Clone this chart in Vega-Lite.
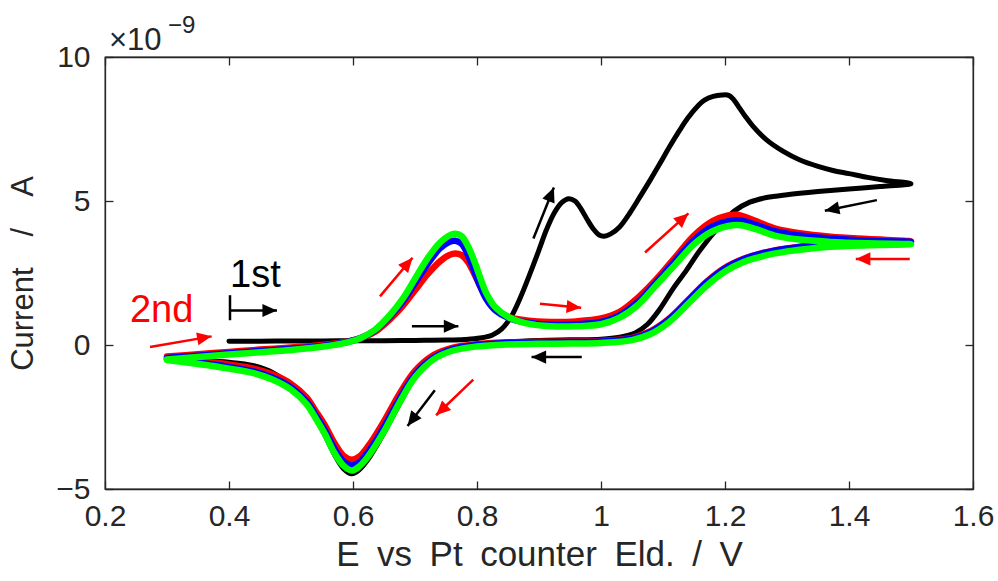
{
  "$schema": "https://vega.github.io/schema/vega-lite/v6.json",
  "width": 868,
  "height": 432,
  "autosize": "none",
  "padding": {"left": 105, "top": 57, "right": 25, "bottom": 92},
  "background": "white",
  "config": {
    "font": "Liberation Sans",
    "view": {"stroke": "#262626", "strokeWidth": 1.3},
    "axis": {
      "grid": false,
      "domainColor": "#262626",
      "domainWidth": 1.3,
      "tickColor": "#262626",
      "tickWidth": 1.3,
      "tickSize": -8,
      "labelColor": "#262626",
      "labelFont": "Liberation Sans",
      "labelFontSize": 30,
      "labelOverlap": false,
      "labelFlush": false,
      "titleFont": "Liberation Sans",
      "titleFontSize": 31,
      "titleFontWeight": "normal",
      "titleColor": "#262626"
    }
  },
  "datasets": {
    "cv": [
      {"cycle": "1st", "step": 1, "E": 0.40, "I": 0.13},
      {"cycle": "1st", "step": 2, "E": 0.45, "I": 0.13},
      {"cycle": "1st", "step": 3, "E": 0.50, "I": 0.14},
      {"cycle": "1st", "step": 4, "E": 0.55, "I": 0.14},
      {"cycle": "1st", "step": 5, "E": 0.60, "I": 0.15},
      {"cycle": "1st", "step": 6, "E": 0.65, "I": 0.15},
      {"cycle": "1st", "step": 7, "E": 0.70, "I": 0.16},
      {"cycle": "1st", "step": 8, "E": 0.75, "I": 0.17},
      {"cycle": "1st", "step": 9, "E": 0.78, "I": 0.19},
      {"cycle": "1st", "step": 10, "E": 0.805, "I": 0.24},
      {"cycle": "1st", "step": 11, "E": 0.825, "I": 0.35},
      {"cycle": "1st", "step": 12, "E": 0.84, "I": 0.56},
      {"cycle": "1st", "step": 13, "E": 0.855, "I": 0.98},
      {"cycle": "1st", "step": 14, "E": 0.87, "I": 1.65},
      {"cycle": "1st", "step": 15, "E": 0.885, "I": 2.45},
      {"cycle": "1st", "step": 16, "E": 0.90, "I": 3.3},
      {"cycle": "1st", "step": 17, "E": 0.912, "I": 4.0},
      {"cycle": "1st", "step": 18, "E": 0.925, "I": 4.6},
      {"cycle": "1st", "step": 19, "E": 0.937, "I": 4.95},
      {"cycle": "1st", "step": 20, "E": 0.948, "I": 5.08},
      {"cycle": "1st", "step": 21, "E": 0.958, "I": 5.0},
      {"cycle": "1st", "step": 22, "E": 0.968, "I": 4.72},
      {"cycle": "1st", "step": 23, "E": 0.978, "I": 4.35},
      {"cycle": "1st", "step": 24, "E": 0.988, "I": 4.02},
      {"cycle": "1st", "step": 25, "E": 0.997, "I": 3.82},
      {"cycle": "1st", "step": 26, "E": 1.005, "I": 3.78},
      {"cycle": "1st", "step": 27, "E": 1.015, "I": 3.85},
      {"cycle": "1st", "step": 28, "E": 1.03, "I": 4.1},
      {"cycle": "1st", "step": 29, "E": 1.047, "I": 4.6},
      {"cycle": "1st", "step": 30, "E": 1.063, "I": 5.15},
      {"cycle": "1st", "step": 31, "E": 1.08, "I": 5.75},
      {"cycle": "1st", "step": 32, "E": 1.095, "I": 6.3},
      {"cycle": "1st", "step": 33, "E": 1.111, "I": 6.9},
      {"cycle": "1st", "step": 34, "E": 1.127, "I": 7.46},
      {"cycle": "1st", "step": 35, "E": 1.14, "I": 7.88},
      {"cycle": "1st", "step": 36, "E": 1.154, "I": 8.25},
      {"cycle": "1st", "step": 37, "E": 1.167, "I": 8.5},
      {"cycle": "1st", "step": 38, "E": 1.181, "I": 8.63},
      {"cycle": "1st", "step": 39, "E": 1.195, "I": 8.68},
      {"cycle": "1st", "step": 40, "E": 1.206, "I": 8.67},
      {"cycle": "1st", "step": 41, "E": 1.214, "I": 8.52},
      {"cycle": "1st", "step": 42, "E": 1.222, "I": 8.27},
      {"cycle": "1st", "step": 43, "E": 1.232, "I": 7.96},
      {"cycle": "1st", "step": 44, "E": 1.245, "I": 7.6},
      {"cycle": "1st", "step": 45, "E": 1.267, "I": 7.12},
      {"cycle": "1st", "step": 46, "E": 1.294, "I": 6.72},
      {"cycle": "1st", "step": 47, "E": 1.32, "I": 6.43},
      {"cycle": "1st", "step": 48, "E": 1.35, "I": 6.2},
      {"cycle": "1st", "step": 49, "E": 1.374, "I": 6.06},
      {"cycle": "1st", "step": 50, "E": 1.40, "I": 5.95},
      {"cycle": "1st", "step": 51, "E": 1.43, "I": 5.82},
      {"cycle": "1st", "step": 52, "E": 1.46, "I": 5.71},
      {"cycle": "1st", "step": 53, "E": 1.50, "I": 5.6},
      {"cycle": "1st", "step": 54, "E": 1.45, "I": 5.5},
      {"cycle": "1st", "step": 55, "E": 1.40, "I": 5.42},
      {"cycle": "1st", "step": 56, "E": 1.35, "I": 5.33},
      {"cycle": "1st", "step": 57, "E": 1.30, "I": 5.22},
      {"cycle": "1st", "step": 58, "E": 1.267, "I": 5.12},
      {"cycle": "1st", "step": 59, "E": 1.24, "I": 4.96},
      {"cycle": "1st", "step": 60, "E": 1.215, "I": 4.65},
      {"cycle": "1st", "step": 61, "E": 1.19, "I": 4.1},
      {"cycle": "1st", "step": 62, "E": 1.16, "I": 3.3},
      {"cycle": "1st", "step": 63, "E": 1.138, "I": 2.6},
      {"cycle": "1st", "step": 64, "E": 1.116, "I": 1.95},
      {"cycle": "1st", "step": 65, "E": 1.095, "I": 1.25},
      {"cycle": "1st", "step": 66, "E": 1.075, "I": 0.72},
      {"cycle": "1st", "step": 67, "E": 1.055, "I": 0.42},
      {"cycle": "1st", "step": 68, "E": 1.03, "I": 0.27},
      {"cycle": "1st", "step": 69, "E": 1.00, "I": 0.2},
      {"cycle": "1st", "step": 70, "E": 0.95, "I": 0.18},
      {"cycle": "1st", "step": 71, "E": 0.90, "I": 0.16},
      {"cycle": "1st", "step": 72, "E": 0.85, "I": 0.11},
      {"cycle": "1st", "step": 73, "E": 0.80, "I": 0.01},
      {"cycle": "1st", "step": 74, "E": 0.76, "I": -0.18},
      {"cycle": "1st", "step": 75, "E": 0.73, "I": -0.48},
      {"cycle": "1st", "step": 76, "E": 0.70, "I": -1.12},
      {"cycle": "1st", "step": 77, "E": 0.675, "I": -2.05},
      {"cycle": "1st", "step": 78, "E": 0.65, "I": -3.05},
      {"cycle": "1st", "step": 79, "E": 0.625, "I": -3.95},
      {"cycle": "1st", "step": 80, "E": 0.61, "I": -4.33},
      {"cycle": "1st", "step": 81, "E": 0.598, "I": -4.47},
      {"cycle": "1st", "step": 82, "E": 0.585, "I": -4.3},
      {"cycle": "1st", "step": 83, "E": 0.57, "I": -3.8},
      {"cycle": "1st", "step": 84, "E": 0.555, "I": -3.15},
      {"cycle": "1st", "step": 85, "E": 0.54, "I": -2.55},
      {"cycle": "1st", "step": 86, "E": 0.525, "I": -2.0},
      {"cycle": "1st", "step": 87, "E": 0.50, "I": -1.42},
      {"cycle": "1st", "step": 88, "E": 0.47, "I": -0.95},
      {"cycle": "1st", "step": 89, "E": 0.44, "I": -0.72},
      {"cycle": "1st", "step": 90, "E": 0.40, "I": -0.6},
      {"cycle": "1st", "step": 91, "E": 0.35, "I": -0.54},
      {"cycle": "1st", "step": 92, "E": 0.30, "I": -0.5},

      {"cycle": "2nd", "step": 1, "E": 0.30, "I": -0.40},
      {"cycle": "2nd", "step": 2, "E": 0.35, "I": -0.32},
      {"cycle": "2nd", "step": 3, "E": 0.40, "I": -0.24},
      {"cycle": "2nd", "step": 4, "E": 0.45, "I": -0.16},
      {"cycle": "2nd", "step": 5, "E": 0.50, "I": -0.09},
      {"cycle": "2nd", "step": 6, "E": 0.55, "I": 0.0},
      {"cycle": "2nd", "step": 7, "E": 0.58, "I": 0.08},
      {"cycle": "2nd", "step": 8, "E": 0.61, "I": 0.22},
      {"cycle": "2nd", "step": 9, "E": 0.635, "I": 0.45},
      {"cycle": "2nd", "step": 10, "E": 0.66, "I": 0.9},
      {"cycle": "2nd", "step": 11, "E": 0.68, "I": 1.35},
      {"cycle": "2nd", "step": 12, "E": 0.70, "I": 1.9},
      {"cycle": "2nd", "step": 13, "E": 0.72, "I": 2.45},
      {"cycle": "2nd", "step": 14, "E": 0.74, "I": 2.9},
      {"cycle": "2nd", "step": 15, "E": 0.755, "I": 3.12},
      {"cycle": "2nd", "step": 16, "E": 0.765, "I": 3.18},
      {"cycle": "2nd", "step": 17, "E": 0.775, "I": 3.12},
      {"cycle": "2nd", "step": 18, "E": 0.785, "I": 2.9},
      {"cycle": "2nd", "step": 19, "E": 0.795, "I": 2.5},
      {"cycle": "2nd", "step": 20, "E": 0.805, "I": 2.05},
      {"cycle": "2nd", "step": 21, "E": 0.815, "I": 1.65},
      {"cycle": "2nd", "step": 22, "E": 0.83, "I": 1.25},
      {"cycle": "2nd", "step": 23, "E": 0.85, "I": 0.98},
      {"cycle": "2nd", "step": 24, "E": 0.88, "I": 0.85},
      {"cycle": "2nd", "step": 25, "E": 0.92, "I": 0.8},
      {"cycle": "2nd", "step": 26, "E": 0.96, "I": 0.82},
      {"cycle": "2nd", "step": 27, "E": 1.00, "I": 0.92},
      {"cycle": "2nd", "step": 28, "E": 1.03, "I": 1.15},
      {"cycle": "2nd", "step": 29, "E": 1.06, "I": 1.65},
      {"cycle": "2nd", "step": 30, "E": 1.09, "I": 2.3},
      {"cycle": "2nd", "step": 31, "E": 1.12, "I": 3.05},
      {"cycle": "2nd", "step": 32, "E": 1.15, "I": 3.8},
      {"cycle": "2nd", "step": 33, "E": 1.18, "I": 4.3},
      {"cycle": "2nd", "step": 34, "E": 1.205, "I": 4.5},
      {"cycle": "2nd", "step": 35, "E": 1.22, "I": 4.52},
      {"cycle": "2nd", "step": 36, "E": 1.25, "I": 4.3},
      {"cycle": "2nd", "step": 37, "E": 1.28, "I": 4.05},
      {"cycle": "2nd", "step": 38, "E": 1.32, "I": 3.88},
      {"cycle": "2nd", "step": 39, "E": 1.37, "I": 3.76},
      {"cycle": "2nd", "step": 40, "E": 1.43, "I": 3.68},
      {"cycle": "2nd", "step": 41, "E": 1.50, "I": 3.6},
      {"cycle": "2nd", "step": 42, "E": 1.45, "I": 3.55},
      {"cycle": "2nd", "step": 43, "E": 1.40, "I": 3.52},
      {"cycle": "2nd", "step": 44, "E": 1.35, "I": 3.47},
      {"cycle": "2nd", "step": 45, "E": 1.30, "I": 3.35},
      {"cycle": "2nd", "step": 46, "E": 1.26, "I": 3.19},
      {"cycle": "2nd", "step": 47, "E": 1.23, "I": 2.99},
      {"cycle": "2nd", "step": 48, "E": 1.20, "I": 2.68},
      {"cycle": "2nd", "step": 49, "E": 1.17, "I": 2.19},
      {"cycle": "2nd", "step": 50, "E": 1.14, "I": 1.55},
      {"cycle": "2nd", "step": 51, "E": 1.11, "I": 0.92},
      {"cycle": "2nd", "step": 52, "E": 1.08, "I": 0.48},
      {"cycle": "2nd", "step": 53, "E": 1.05, "I": 0.25},
      {"cycle": "2nd", "step": 54, "E": 1.00, "I": 0.14},
      {"cycle": "2nd", "step": 55, "E": 0.95, "I": 0.12},
      {"cycle": "2nd", "step": 56, "E": 0.90, "I": 0.11},
      {"cycle": "2nd", "step": 57, "E": 0.85, "I": 0.09},
      {"cycle": "2nd", "step": 58, "E": 0.80, "I": 0.03},
      {"cycle": "2nd", "step": 59, "E": 0.76, "I": -0.1},
      {"cycle": "2nd", "step": 60, "E": 0.73, "I": -0.35},
      {"cycle": "2nd", "step": 61, "E": 0.70, "I": -0.9},
      {"cycle": "2nd", "step": 62, "E": 0.675, "I": -1.7},
      {"cycle": "2nd", "step": 63, "E": 0.65, "I": -2.65},
      {"cycle": "2nd", "step": 64, "E": 0.625, "I": -3.5},
      {"cycle": "2nd", "step": 65, "E": 0.61, "I": -3.88},
      {"cycle": "2nd", "step": 66, "E": 0.598, "I": -3.98},
      {"cycle": "2nd", "step": 67, "E": 0.585, "I": -3.85},
      {"cycle": "2nd", "step": 68, "E": 0.57, "I": -3.4},
      {"cycle": "2nd", "step": 69, "E": 0.555, "I": -2.8},
      {"cycle": "2nd", "step": 70, "E": 0.54, "I": -2.3},
      {"cycle": "2nd", "step": 71, "E": 0.525, "I": -1.82},
      {"cycle": "2nd", "step": 72, "E": 0.50, "I": -1.35},
      {"cycle": "2nd", "step": 73, "E": 0.47, "I": -1.02},
      {"cycle": "2nd", "step": 74, "E": 0.44, "I": -0.82},
      {"cycle": "2nd", "step": 75, "E": 0.40, "I": -0.68},
      {"cycle": "2nd", "step": 76, "E": 0.35, "I": -0.55},
      {"cycle": "2nd", "step": 77, "E": 0.30, "I": -0.45},

      {"cycle": "3rd", "step": 1, "E": 0.30, "I": -0.45},
      {"cycle": "3rd", "step": 2, "E": 0.35, "I": -0.37},
      {"cycle": "3rd", "step": 3, "E": 0.40, "I": -0.29},
      {"cycle": "3rd", "step": 4, "E": 0.45, "I": -0.21},
      {"cycle": "3rd", "step": 5, "E": 0.50, "I": -0.13},
      {"cycle": "3rd", "step": 6, "E": 0.55, "I": -0.03},
      {"cycle": "3rd", "step": 7, "E": 0.58, "I": 0.06},
      {"cycle": "3rd", "step": 8, "E": 0.61, "I": 0.22},
      {"cycle": "3rd", "step": 9, "E": 0.635, "I": 0.5},
      {"cycle": "3rd", "step": 10, "E": 0.66, "I": 1.0},
      {"cycle": "3rd", "step": 11, "E": 0.68, "I": 1.5},
      {"cycle": "3rd", "step": 12, "E": 0.70, "I": 2.15},
      {"cycle": "3rd", "step": 13, "E": 0.72, "I": 2.8},
      {"cycle": "3rd", "step": 14, "E": 0.74, "I": 3.35},
      {"cycle": "3rd", "step": 15, "E": 0.755, "I": 3.58},
      {"cycle": "3rd", "step": 16, "E": 0.765, "I": 3.62},
      {"cycle": "3rd", "step": 17, "E": 0.775, "I": 3.52},
      {"cycle": "3rd", "step": 18, "E": 0.785, "I": 3.15},
      {"cycle": "3rd", "step": 19, "E": 0.795, "I": 2.6},
      {"cycle": "3rd", "step": 20, "E": 0.805, "I": 2.05},
      {"cycle": "3rd", "step": 21, "E": 0.815, "I": 1.6},
      {"cycle": "3rd", "step": 22, "E": 0.83, "I": 1.2},
      {"cycle": "3rd", "step": 23, "E": 0.85, "I": 0.95},
      {"cycle": "3rd", "step": 24, "E": 0.88, "I": 0.78},
      {"cycle": "3rd", "step": 25, "E": 0.92, "I": 0.7},
      {"cycle": "3rd", "step": 26, "E": 0.96, "I": 0.72},
      {"cycle": "3rd", "step": 27, "E": 1.00, "I": 0.8},
      {"cycle": "3rd", "step": 28, "E": 1.03, "I": 1.03},
      {"cycle": "3rd", "step": 29, "E": 1.06, "I": 1.5},
      {"cycle": "3rd", "step": 30, "E": 1.09, "I": 2.2},
      {"cycle": "3rd", "step": 31, "E": 1.12, "I": 2.93},
      {"cycle": "3rd", "step": 32, "E": 1.15, "I": 3.65},
      {"cycle": "3rd", "step": 33, "E": 1.18, "I": 4.12},
      {"cycle": "3rd", "step": 34, "E": 1.205, "I": 4.3},
      {"cycle": "3rd", "step": 35, "E": 1.222, "I": 4.33},
      {"cycle": "3rd", "step": 36, "E": 1.25, "I": 4.17},
      {"cycle": "3rd", "step": 37, "E": 1.28, "I": 3.95},
      {"cycle": "3rd", "step": 38, "E": 1.32, "I": 3.8},
      {"cycle": "3rd", "step": 39, "E": 1.37, "I": 3.7},
      {"cycle": "3rd", "step": 40, "E": 1.43, "I": 3.62},
      {"cycle": "3rd", "step": 41, "E": 1.50, "I": 3.58},
      {"cycle": "3rd", "step": 42, "E": 1.45, "I": 3.54},
      {"cycle": "3rd", "step": 43, "E": 1.40, "I": 3.51},
      {"cycle": "3rd", "step": 44, "E": 1.35, "I": 3.46},
      {"cycle": "3rd", "step": 45, "E": 1.30, "I": 3.34},
      {"cycle": "3rd", "step": 46, "E": 1.26, "I": 3.18},
      {"cycle": "3rd", "step": 47, "E": 1.23, "I": 2.98},
      {"cycle": "3rd", "step": 48, "E": 1.20, "I": 2.66},
      {"cycle": "3rd", "step": 49, "E": 1.17, "I": 2.16},
      {"cycle": "3rd", "step": 50, "E": 1.14, "I": 1.52},
      {"cycle": "3rd", "step": 51, "E": 1.11, "I": 0.89},
      {"cycle": "3rd", "step": 52, "E": 1.08, "I": 0.45},
      {"cycle": "3rd", "step": 53, "E": 1.05, "I": 0.23},
      {"cycle": "3rd", "step": 54, "E": 1.00, "I": 0.12},
      {"cycle": "3rd", "step": 55, "E": 0.95, "I": 0.1},
      {"cycle": "3rd", "step": 56, "E": 0.90, "I": 0.09},
      {"cycle": "3rd", "step": 57, "E": 0.85, "I": 0.07},
      {"cycle": "3rd", "step": 58, "E": 0.80, "I": 0.0},
      {"cycle": "3rd", "step": 59, "E": 0.76, "I": -0.15},
      {"cycle": "3rd", "step": 60, "E": 0.73, "I": -0.44},
      {"cycle": "3rd", "step": 61, "E": 0.70, "I": -1.03},
      {"cycle": "3rd", "step": 62, "E": 0.675, "I": -1.88},
      {"cycle": "3rd", "step": 63, "E": 0.65, "I": -2.85},
      {"cycle": "3rd", "step": 64, "E": 0.625, "I": -3.7},
      {"cycle": "3rd", "step": 65, "E": 0.61, "I": -4.08},
      {"cycle": "3rd", "step": 66, "E": 0.598, "I": -4.18},
      {"cycle": "3rd", "step": 67, "E": 0.585, "I": -4.05},
      {"cycle": "3rd", "step": 68, "E": 0.57, "I": -3.6},
      {"cycle": "3rd", "step": 69, "E": 0.555, "I": -2.98},
      {"cycle": "3rd", "step": 70, "E": 0.54, "I": -2.45},
      {"cycle": "3rd", "step": 71, "E": 0.525, "I": -1.96},
      {"cycle": "3rd", "step": 72, "E": 0.50, "I": -1.47},
      {"cycle": "3rd", "step": 73, "E": 0.47, "I": -1.13},
      {"cycle": "3rd", "step": 74, "E": 0.44, "I": -0.92},
      {"cycle": "3rd", "step": 75, "E": 0.40, "I": -0.76},
      {"cycle": "3rd", "step": 76, "E": 0.35, "I": -0.61},
      {"cycle": "3rd", "step": 77, "E": 0.30, "I": -0.49},

      {"cycle": "4th", "step": 1, "E": 0.30, "I": -0.50},
      {"cycle": "4th", "step": 2, "E": 0.35, "I": -0.42},
      {"cycle": "4th", "step": 3, "E": 0.40, "I": -0.33},
      {"cycle": "4th", "step": 4, "E": 0.45, "I": -0.25},
      {"cycle": "4th", "step": 5, "E": 0.50, "I": -0.17},
      {"cycle": "4th", "step": 6, "E": 0.55, "I": -0.06},
      {"cycle": "4th", "step": 7, "E": 0.58, "I": 0.04},
      {"cycle": "4th", "step": 8, "E": 0.61, "I": 0.22},
      {"cycle": "4th", "step": 9, "E": 0.635, "I": 0.52},
      {"cycle": "4th", "step": 10, "E": 0.66, "I": 1.05},
      {"cycle": "4th", "step": 11, "E": 0.68, "I": 1.6},
      {"cycle": "4th", "step": 12, "E": 0.70, "I": 2.3},
      {"cycle": "4th", "step": 13, "E": 0.72, "I": 3.0},
      {"cycle": "4th", "step": 14, "E": 0.74, "I": 3.55},
      {"cycle": "4th", "step": 15, "E": 0.755, "I": 3.8},
      {"cycle": "4th", "step": 16, "E": 0.765, "I": 3.86},
      {"cycle": "4th", "step": 17, "E": 0.775, "I": 3.78},
      {"cycle": "4th", "step": 18, "E": 0.785, "I": 3.45},
      {"cycle": "4th", "step": 19, "E": 0.795, "I": 2.95},
      {"cycle": "4th", "step": 20, "E": 0.805, "I": 2.35},
      {"cycle": "4th", "step": 21, "E": 0.815, "I": 1.8},
      {"cycle": "4th", "step": 22, "E": 0.83, "I": 1.3},
      {"cycle": "4th", "step": 23, "E": 0.85, "I": 0.98},
      {"cycle": "4th", "step": 24, "E": 0.88, "I": 0.75},
      {"cycle": "4th", "step": 25, "E": 0.92, "I": 0.65},
      {"cycle": "4th", "step": 26, "E": 0.96, "I": 0.65},
      {"cycle": "4th", "step": 27, "E": 1.00, "I": 0.72},
      {"cycle": "4th", "step": 28, "E": 1.03, "I": 0.95},
      {"cycle": "4th", "step": 29, "E": 1.06, "I": 1.4},
      {"cycle": "4th", "step": 30, "E": 1.09, "I": 2.1},
      {"cycle": "4th", "step": 31, "E": 1.12, "I": 2.8},
      {"cycle": "4th", "step": 32, "E": 1.15, "I": 3.5},
      {"cycle": "4th", "step": 33, "E": 1.18, "I": 3.95},
      {"cycle": "4th", "step": 34, "E": 1.205, "I": 4.13},
      {"cycle": "4th", "step": 35, "E": 1.225, "I": 4.16},
      {"cycle": "4th", "step": 36, "E": 1.25, "I": 4.02},
      {"cycle": "4th", "step": 37, "E": 1.28, "I": 3.8},
      {"cycle": "4th", "step": 38, "E": 1.32, "I": 3.66},
      {"cycle": "4th", "step": 39, "E": 1.37, "I": 3.58},
      {"cycle": "4th", "step": 40, "E": 1.43, "I": 3.53},
      {"cycle": "4th", "step": 41, "E": 1.50, "I": 3.5},
      {"cycle": "4th", "step": 42, "E": 1.45, "I": 3.47},
      {"cycle": "4th", "step": 43, "E": 1.40, "I": 3.44},
      {"cycle": "4th", "step": 44, "E": 1.35, "I": 3.38},
      {"cycle": "4th", "step": 45, "E": 1.30, "I": 3.25},
      {"cycle": "4th", "step": 46, "E": 1.26, "I": 3.08},
      {"cycle": "4th", "step": 47, "E": 1.23, "I": 2.88},
      {"cycle": "4th", "step": 48, "E": 1.20, "I": 2.55},
      {"cycle": "4th", "step": 49, "E": 1.17, "I": 2.05},
      {"cycle": "4th", "step": 50, "E": 1.14, "I": 1.42},
      {"cycle": "4th", "step": 51, "E": 1.11, "I": 0.8},
      {"cycle": "4th", "step": 52, "E": 1.08, "I": 0.38},
      {"cycle": "4th", "step": 53, "E": 1.05, "I": 0.17},
      {"cycle": "4th", "step": 54, "E": 1.00, "I": 0.07},
      {"cycle": "4th", "step": 55, "E": 0.95, "I": 0.05},
      {"cycle": "4th", "step": 56, "E": 0.90, "I": 0.04},
      {"cycle": "4th", "step": 57, "E": 0.85, "I": 0.02},
      {"cycle": "4th", "step": 58, "E": 0.80, "I": -0.05},
      {"cycle": "4th", "step": 59, "E": 0.76, "I": -0.2},
      {"cycle": "4th", "step": 60, "E": 0.73, "I": -0.5},
      {"cycle": "4th", "step": 61, "E": 0.70, "I": -1.12},
      {"cycle": "4th", "step": 62, "E": 0.675, "I": -2.0},
      {"cycle": "4th", "step": 63, "E": 0.65, "I": -3.0},
      {"cycle": "4th", "step": 64, "E": 0.625, "I": -3.85},
      {"cycle": "4th", "step": 65, "E": 0.61, "I": -4.22},
      {"cycle": "4th", "step": 66, "E": 0.598, "I": -4.36},
      {"cycle": "4th", "step": 67, "E": 0.585, "I": -4.2},
      {"cycle": "4th", "step": 68, "E": 0.57, "I": -3.75},
      {"cycle": "4th", "step": 69, "E": 0.555, "I": -3.1},
      {"cycle": "4th", "step": 70, "E": 0.54, "I": -2.55},
      {"cycle": "4th", "step": 71, "E": 0.525, "I": -2.05},
      {"cycle": "4th", "step": 72, "E": 0.50, "I": -1.55},
      {"cycle": "4th", "step": 73, "E": 0.47, "I": -1.2},
      {"cycle": "4th", "step": 74, "E": 0.44, "I": -0.98},
      {"cycle": "4th", "step": 75, "E": 0.40, "I": -0.82},
      {"cycle": "4th", "step": 76, "E": 0.35, "I": -0.66},
      {"cycle": "4th", "step": 77, "E": 0.30, "I": -0.52}
    ],
    "arrows": [
      {"cycle": "2nd", "kind": "arrow", "E": 0.2726, "I": -0.07, "E2": 0.372, "I2": 0.30},
      {"cycle": "2nd", "kind": "arrow", "E": 0.6435, "I": 1.69, "E2": 0.696, "I2": 3.03},
      {"cycle": "2nd", "kind": "arrow", "E": 0.9016, "I": 1.43, "E2": 0.968, "I2": 1.29},
      {"cycle": "2nd", "kind": "arrow", "E": 1.071, "I": 3.21, "E2": 1.141, "I2": 4.57},
      {"cycle": "2nd", "kind": "arrow", "E": 1.498, "I": 2.99, "E2": 1.411, "I2": 2.99},
      {"cycle": "2nd", "kind": "arrow", "E": 0.794, "I": -1.2, "E2": 0.734, "I2": -2.44},
      {"cycle": "1st", "kind": "arrow", "E": 0.4016, "I": 1.2, "E2": 0.4774, "I2": 1.2},
      {"cycle": "1st", "kind": "stop", "E": 0.4016, "I": 0.86, "E2": 0.4016, "I2": 1.73},
      {"cycle": "1st", "kind": "arrow", "E": 0.695, "I": 0.65, "E2": 0.77, "I2": 0.65},
      {"cycle": "1st", "kind": "arrow", "E": 0.891, "I": 3.7, "E2": 0.924, "I2": 5.47},
      {"cycle": "1st", "kind": "arrow", "E": 0.969, "I": -0.42, "E2": 0.888, "I2": -0.42},
      {"cycle": "1st", "kind": "arrow", "E": 0.732, "I": -1.57, "E2": 0.688, "I2": -2.81},
      {"cycle": "1st", "kind": "arrow", "E": 1.445, "I": 5.03, "E2": 1.361, "I2": 4.66}
    ],
    "notes": [
      {"cycle": "1st", "label": "1st", "E": 0.4016, "I": 2.0},
      {"cycle": "2nd", "label": "2nd", "E": 0.2403, "I": 0.79}
    ]
  },
  "resolve": {"axis": {"x": "independent", "y": "independent"}},
  "layer": [
    {
      "data": {"name": "cv"},
      "transform": [{"filter": "datum.cycle === '1st'"}],
      "mark": {"type": "line", "color": "#000000", "strokeWidth": 5, "interpolate": "catmull-rom", "strokeJoin": "round", "strokeCap": "round"},
      "encoding": {
        "x": {"field": "E", "type": "quantitative", "scale": {"domain": [0.2, 1.6], "nice": false, "zero": false},
              "axis": {"orient": "bottom", "values": [0.2, 0.4, 0.6, 0.8, 1, 1.2, 1.4, 1.6], "format": ".1~f", "labelPadding": 20, "title": "E\u2002vs\u2002Pt\u2002counter\u2002Eld.\u2002/\u2002V", "titleFontSize": 35, "titlePadding": 6}},
        "y": {"field": "I", "type": "quantitative", "scale": {"domain": [-5, 10], "nice": false, "zero": false},
              "axis": {"orient": "left", "values": [-5, 0, 5, 10], "format": "d", "labelPadding": 23, "title": "Current\u2003/\u2003A", "titleFontSize": 31, "titlePadding": 16}},
        "order": {"field": "step", "type": "quantitative"}
      }
    },
    {
      "data": {"name": "cv"},
      "transform": [{"filter": "datum.cycle !== '1st'"}],
      "mark": {"type": "line", "strokeWidth": 6.5, "interpolate": "catmull-rom", "strokeJoin": "round", "strokeCap": "round"},
      "encoding": {
        "x": {"field": "E", "type": "quantitative", "axis": null},
        "y": {"field": "I", "type": "quantitative", "axis": null},
        "color": {"field": "cycle", "type": "nominal", "scale": {"domain": ["1st", "2nd", "3rd", "4th"], "range": ["#000000", "#ff0000", "#0000ff", "#00ff00"]}, "legend": null},
        "order": {"field": "step", "type": "quantitative"}
      }
    },
    {
      "data": {"name": "arrows"},
      "mark": {"type": "rule", "strokeWidth": 2.5},
      "encoding": {
        "x": {"field": "E", "type": "quantitative", "axis": null},
        "y": {"field": "I", "type": "quantitative", "axis": null},
        "x2": {"field": "E2"},
        "y2": {"field": "I2"},
        "color": {"field": "cycle", "type": "nominal", "legend": null}
      }
    },
    {
      "data": {"name": "arrows"},
      "transform": [
        {"filter": "datum.kind === 'arrow'"},
        {"calculate": "atan2((datum.E2 - datum.E) * 868 / 1.4, (datum.I2 - datum.I) * 432 / 15) * 180 / PI", "as": "heading"}
      ],
      "mark": {"type": "point", "shape": "M0,0L-0.45,1L0.45,1Z", "filled": true, "opacity": 1, "strokeWidth": 0, "size": 850},
      "encoding": {
        "x": {"field": "E2", "type": "quantitative", "axis": null},
        "y": {"field": "I2", "type": "quantitative", "axis": null},
        "angle": {"field": "heading", "type": "quantitative", "scale": null},
        "color": {"field": "cycle", "type": "nominal", "legend": null}
      }
    },
    {
      "data": {"name": "notes"},
      "mark": {"type": "text", "align": "left", "baseline": "alphabetic", "fontSize": 38, "font": "Liberation Sans"},
      "encoding": {
        "x": {"field": "E", "type": "quantitative", "axis": null},
        "y": {"field": "I", "type": "quantitative", "axis": null},
        "text": {"field": "label"},
        "color": {"field": "cycle", "type": "nominal", "legend": null}
      }
    },
    {
      "data": {"values": [{"part": "×10"}]},
      "mark": {"type": "text", "align": "left", "baseline": "alphabetic", "fontSize": 31, "dx": 4, "dy": -7, "color": "#262626", "font": "Liberation Sans"},
      "encoding": {
        "x": {"datum": 0.2, "type": "quantitative", "axis": null},
        "y": {"datum": 10, "type": "quantitative", "axis": null},
        "text": {"field": "part"}
      }
    },
    {
      "data": {"values": [{"part": "−9"}]},
      "mark": {"type": "text", "align": "left", "baseline": "alphabetic", "fontSize": 24, "dx": 63, "dy": -24, "color": "#262626", "font": "Liberation Sans"},
      "encoding": {
        "x": {"datum": 0.2, "type": "quantitative", "axis": null},
        "y": {"datum": 10, "type": "quantitative", "axis": null},
        "text": {"field": "part"}
      }
    },
    {
      "data": {"name": "cv"},
      "mark": {"type": "point", "opacity": 0},
      "encoding": {
        "x": {"field": "E", "type": "quantitative",
              "axis": {"orient": "top", "values": [0.2, 0.4, 0.6, 0.8, 1, 1.2, 1.4, 1.6], "labels": false, "title": null}},
        "y": {"field": "I", "type": "quantitative",
              "axis": {"orient": "right", "values": [-5, 0, 5, 10], "labels": false, "title": null}}
      }
    }
  ]
}
